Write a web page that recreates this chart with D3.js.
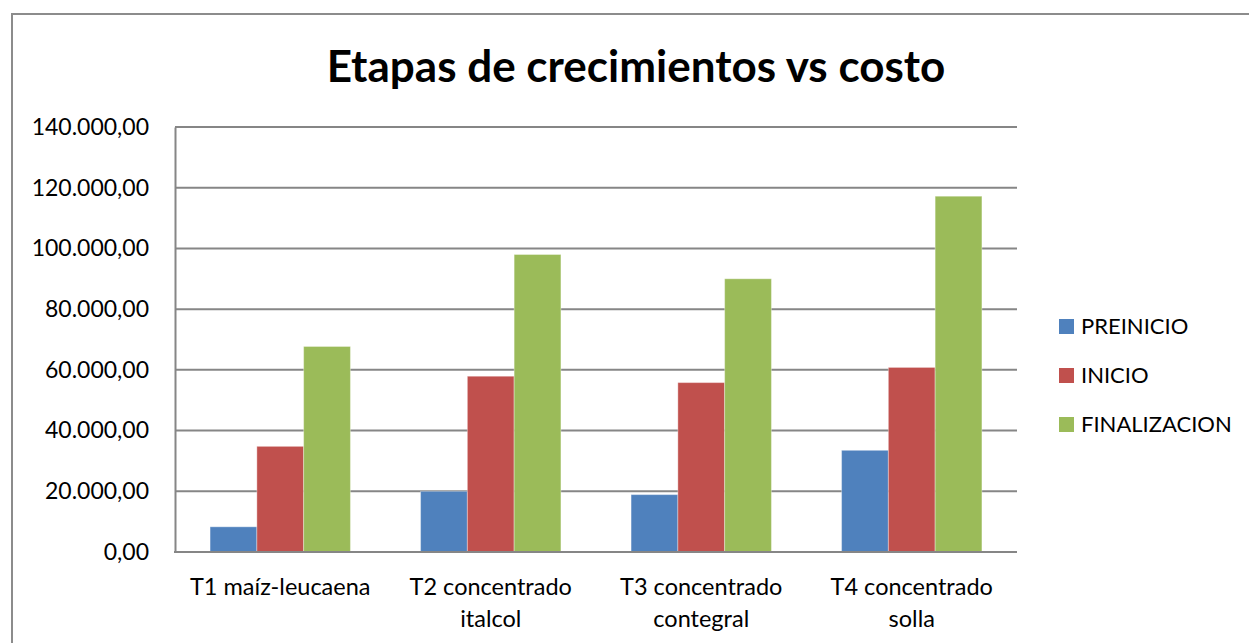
<!DOCTYPE html>
<html lang="es">
<head>
	<meta charset="UTF-8">
	<title>Etapas de crecimientos vs costo</title>
	<script src="https://cdn.jsdelivr.net/npm/d3@7"></script>
	<style>
		html,body{margin:0;padding:0;background:#fff;}
		svg{display:block;font-family:Lato,"Open Sans",sans-serif;}
	</style>
</head>
<body>
	<svg id="chart" width="1249" height="643"></svg>
	<script>
		var categories = [["T1 maíz-leucaena"], ["T2 concentrado", "italcol"], ["T3 concentrado", "contegral"], ["T4 concentrado", "solla"]];
		var seriesNames = ["PREINICIO", "INICIO", "FINALIZACION"];
		var preinicio = [8300, 20000, 18900, 33500];
		var inicio = [34800, 57900, 55800, 60800];
		var finalizacion = [67700, 98000, 90000, 117200];
		var yTicks = [0, 20000, 40000, 60000, 80000, 100000, 120000, 140000];
		var colors = ["#4F81BD", "#C0504D", "#9BBB59"];

		var svg = d3.select("#chart");
		var pLeft = 175, pRight = 1017, pTop = 127, pBottom = 552;

		// chart border
		svg.append("rect")
			.attr("x", 12).attr("y", 14)
			.attr("width", 1260).attr("height", 660)
			.attr("fill", "none").attr("stroke", "#8c8c8c").attr("stroke-width", 2);

		svg.append("text")
			.attr("x", 636).attr("y", 82)
			.attr("text-anchor", "middle")
			.attr("font-size", 44).attr("font-weight", "bold")
			.text("Etapas de crecimientos vs costo");

		// excel style: gap 150% of bar width -> 3 bars take 2/3 of a category slot
		var x = d3.scaleBand().domain(d3.range(categories.length)).range([pLeft, pRight]);
		var xs = d3.scaleBand().domain(seriesNames).range([0, x.bandwidth() * 3 / 4.5]);
		var y = d3.scaleLinear().domain([0, 140000]).range([pBottom, pTop]);

		var fmt = function(v){
			var s = d3.format(",.2f")(v);
			return s.replace(/,/g, "#").replace(".", ",").replace(/#/g, ".");
		};

		// gridlines
		svg.append("g")
			.selectAll("line").data(yTicks.slice(1)).join("line")
			.attr("x1", pLeft).attr("x2", pRight)
			.attr("y1", d => y(d)).attr("y2", d => y(d))
			.attr("stroke", "#868686").attr("stroke-width", 2);

		var yAxis = svg.append("g")
			.attr("transform", "translate(" + pLeft + ",0)")
			.call(d3.axisLeft(y).tickValues(yTicks).tickFormat(fmt).tickSize(0).tickPadding(26));
		yAxis.select(".domain").attr("stroke", "#868686").attr("stroke-width", 2);
		yAxis.selectAll("text").attr("font-size", 23).attr("font-family", "Lato").attr("fill", "#000");

		var series = [preinicio, inicio, finalizacion];
		var groups = svg.append("g").selectAll("g").data(series).join("g")
			.attr("fill", (d, i) => colors[i]);
		groups.selectAll("rect").data((d, i) => d.map((v, j) => ({v: v, j: j, s: seriesNames[i]}))).join("rect")
			.attr("x", d => x(d.j) + x.bandwidth() * 1.5 / 9 + xs(d.s))
			.attr("y", d => y(d.v))
			.attr("width", xs.bandwidth())
			.attr("height", d => y(0) - y(d.v))
			.attr("stroke", "rgba(255,255,255,0.35)").attr("stroke-width", 1);

		// x axis line
		svg.append("line")
			.attr("x1", pLeft - 1).attr("x2", pRight)
			.attr("y1", pBottom).attr("y2", pBottom)
			.attr("stroke", "#868686").attr("stroke-width", 2);

		var xl = svg.append("g").selectAll("text").data(categories).join("text")
			.attr("text-anchor", "middle")
			.attr("font-size", 23.5)
			.attr("x", (d, i) => x(i) + x.bandwidth() / 2)
			.attr("y", 595);
		xl.selectAll("tspan").data(d => d).join("tspan")
			.attr("x", function(){ return d3.select(this.parentNode).attr("x"); })
			.attr("dy", (d, i) => i === 0 ? 0 : 32)
			.text(d => d);

		// legend
		var lg = svg.append("g").selectAll("g").data(seriesNames).join("g")
			.attr("transform", (d, i) => "translate(1059," + (326 + i * 49) + ")");
		lg.append("rect").attr("x", 0).attr("y", -7).attr("width", 15).attr("height", 15)
			.attr("fill", (d, i) => colors[i]);
		lg.append("text").attr("x", 22).attr("y", 0).attr("dy", "0.36em")
			.attr("font-size", 22).text(d => d);
	</script>
</body>
</html>
